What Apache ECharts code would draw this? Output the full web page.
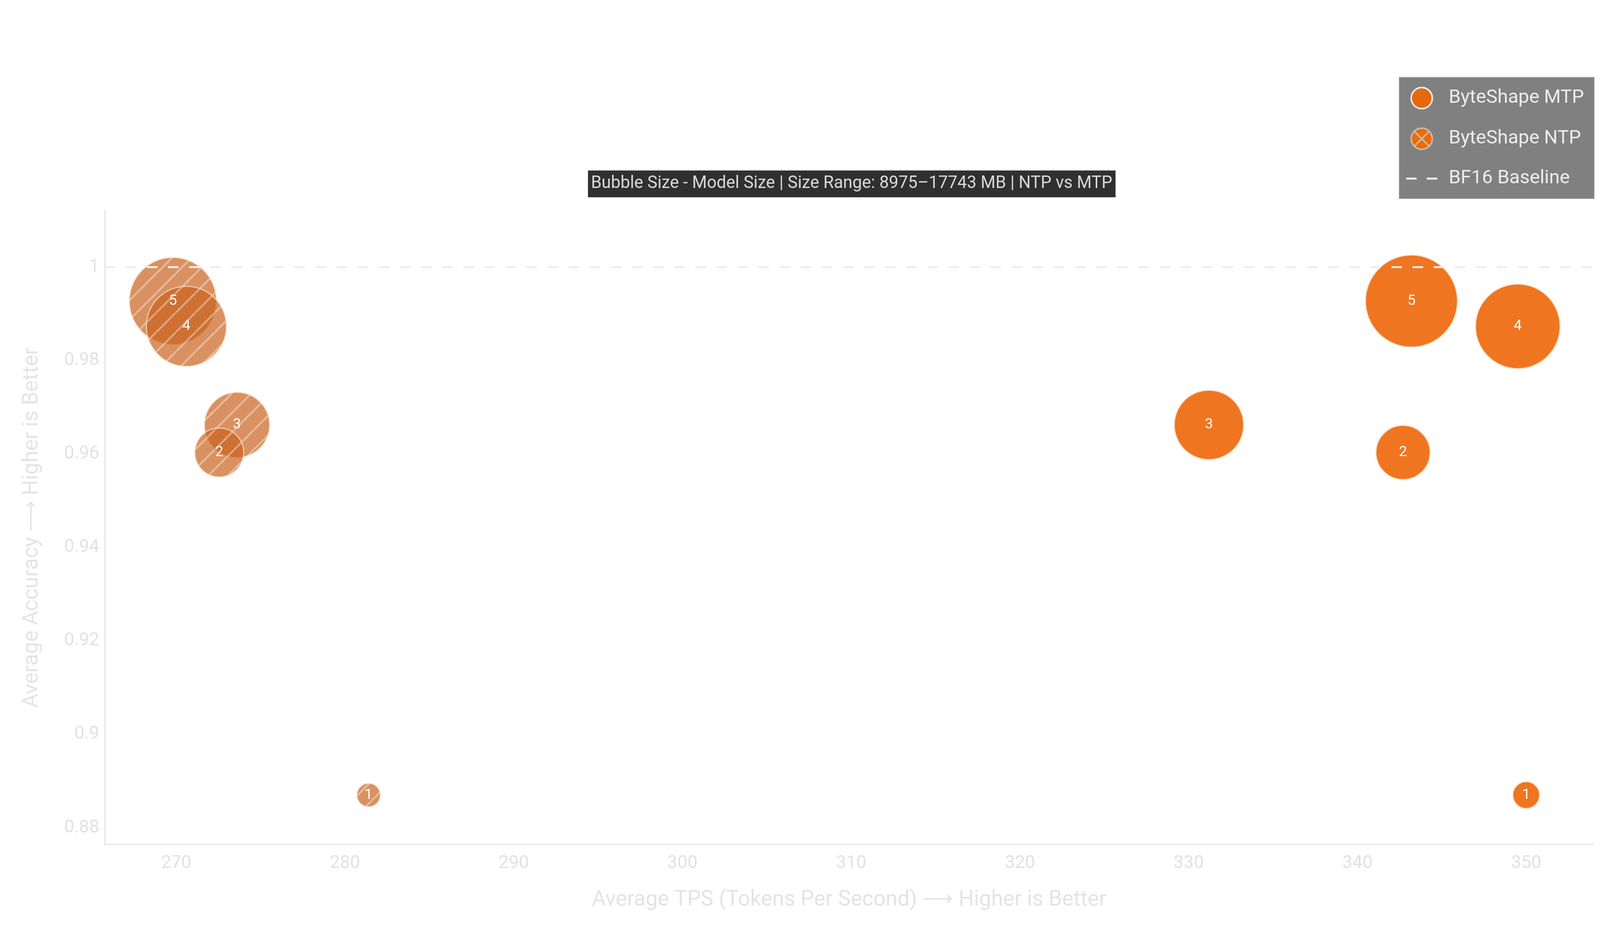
<!DOCTYPE html>
<html>
<head>
<meta charset="utf-8">
<script src="https://cdn.jsdelivr.net/npm/echarts@6/dist/echarts.min.js"></script>
<style>
html,body{margin:0;padding:0;background:#fff;}
#chart{width:4200px;height:2400px;}
</style>
</head>
<body>
<div id="chart"></div>
<script>
// ---- data (ordered by configuration id, largest first) ----
var configIds = [5, 4, 3, 2, 1];
var accuracy = [0.9927, 0.9873, 0.9662, 0.9603, 0.8870];
var mtpTps = [343.2, 349.5, 331.2, 342.7, 350.0];
var ntpTps = [269.8, 270.6, 273.6, 272.55, 281.4];
var mtpSizeMB = [17743, 16796, 14854, 12911, 9423];
var ntpSizeMB = [17095, 16199, 14305, 12213, 8975];
var baselineAccuracy = 1;
var sizeMin = 8975, sizeMax = 17743;
var xTicks = [270, 280, 290, 300, 310, 320, 330, 340, 350];
var yTicks = [0.88, 0.9, 0.92, 0.94, 0.96, 0.98, 1];

var FONT = 'Roboto, "Noto Sans", sans-serif';

function build(tps, sizes) {
  return tps.map(function (x, i) { return [x, accuracy[i], sizes[i], configIds[i]]; });
}

// diagonal stripe fill for the NTP bubbles
function makeStripePattern() {
  var c = document.createElement('canvas');
  c.width = 50; c.height = 50;
  var g = c.getContext('2d');
  g.fillStyle = '#C9631F';
  g.fillRect(0, 0, 50, 50);
  g.strokeStyle = 'rgba(255,255,255,0.36)';
  g.lineWidth = 5;
  [-50, 0, 50].forEach(function (s) {
    g.beginPath(); g.moveTo(s, 50); g.lineTo(s + 50, 0); g.stroke();
  });
  return c;
}
var stripeFill = {image: makeStripePattern(), repeat: 'repeat'};

var chart = echarts.init(document.getElementById('chart'), null, {renderer: 'canvas'});
var option = {
  animation: false,
  backgroundColor: '#ffffff',
  title: {
    text: 'Bubble Size - Model Size | Size Range: ' + sizeMin + '\u2013' + sizeMax + ' MB | NTP vs MTP',
    left: 1505,
    top: 436,
    padding: [10, 8],
    backgroundColor: '#303030',
    borderColor: '#5a5a5a',
    borderWidth: 1,
    textStyle: {color: '#d9d9d9', fontSize: 43.5, fontWeight: 'normal', fontFamily: FONT, lineHeight: 49}
  },
  legend: {
    orient: 'vertical',
    right: 119,
    top: 198,
    backgroundColor: '#808080',
    borderColor: '#9c9c9c',
    borderWidth: 2,
    borderRadius: 0,
    padding: [24, 26, 24, 15],
    itemWidth: 80,
    itemHeight: 54,
    itemGap: 46,
    textStyle: {color: '#ececec', fontSize: 49, fontFamily: FONT, lineHeight: 54, padding: [0, 0, 0, 24]},
    data: [
      {name: 'ByteShape MTP', icon: 'circle',
       itemStyle: {color: '#E5690F', borderColor: '#eeeeee', borderWidth: 4, opacity: 1}},
      {name: 'ByteShape NTP', icon: 'path://M50,5 A45,45 0 1,1 49.99,5 Z M20,20 L80,80 M80,20 L20,80',
       itemStyle: {color: '#F06A00', borderColor: '#c4bbb3', borderWidth: 4, opacity: 1}},
      {name: 'BF16 Baseline', itemStyle: {opacity: 0},
       lineStyle: {color: '#eeeeee', width: 5, type: [27, 26], opacity: 1}}
    ]
  },
  grid: {left: 268, right: 121, top: 540, bottom: 240, containLabel: false},
  xAxis: {
    type: 'value',
    min: 265.76,
    max: 353.98,
    name: 'Average TPS (Tokens Per Second) \u27F6 Higher is Better',
    nameLocation: 'middle',
    nameGap: 116,
    nameTextStyle: {color: '#e4e4e4', fontSize: 55, fontFamily: FONT},
    axisLine: {show: true, lineStyle: {color: '#e4e4e4', width: 3}},
    axisTick: {show: false},
    splitLine: {show: false},
    axisLabel: {
      color: '#e2e2e2', fontSize: 46, fontFamily: FONT, margin: 26,
      customValues: xTicks,
      formatter: function (v) { return String(Math.round(v)); }
    }
  },
  yAxis: {
    type: 'value',
    min: 0.87649,
    max: 1.01196,
    name: 'Average Accuracy \u27F6 Higher is Better',
    nameLocation: 'middle',
    nameGap: 158,
    nameTextStyle: {color: '#e4e4e4', fontSize: 55, fontFamily: FONT},
    axisLine: {show: true, lineStyle: {color: '#e4e4e4', width: 3}},
    axisTick: {show: false},
    splitLine: {show: false},
    axisLabel: {
      color: '#e2e2e2', fontSize: 46, fontFamily: FONT, margin: 14,
      customValues: yTicks,
      formatter: function (v) { return String(+v.toFixed(2)); }
    }
  },
  visualMap: {
    type: 'continuous',
    show: false,
    dimension: 2,
    seriesIndex: [0, 1],
    min: sizeMin,
    max: sizeMax,
    inRange: {symbolSize: [60, 236]},
    outOfRange: {symbolSize: [60, 236]}
  },
  series: [
    {
      name: 'ByteShape MTP',
      type: 'scatter',
      z: 3,
      symbol: 'circle',
      data: build(mtpTps, mtpSizeMB),
      itemStyle: {color: '#F07520', borderColor: '#fde5d3', borderWidth: 3, opacity: 1},
      label: {
        show: true, position: 'inside', color: '#ffffff', fontSize: 37, fontFamily: FONT,
        formatter: function (p) { return String(p.value[3]); }
      }
    },
    {
      name: 'ByteShape NTP',
      type: 'custom',
      z: 3,
      data: build(ntpTps, ntpSizeMB),
      itemStyle: {color: '#C9631F'},
      encode: {x: 0, y: 1},
      renderItem: function (params, api) {
        var pt = api.coord([api.value(0), api.value(1)]);
        var s = api.visual('symbolSize');
        var d = Array.isArray(s) ? s[0] : s;
        return {
          type: 'group',
          children: [
            {type: 'circle', z2: 1, shape: {cx: pt[0], cy: pt[1], r: d / 2},
             style: {fill: stripeFill, stroke: '#fde3d0', lineWidth: 3, opacity: 0.7}},
            {type: 'text', z2: 100,
             style: {text: String(api.value(3)), x: pt[0], y: pt[1], align: 'center', verticalAlign: 'middle',
                     fill: '#ffffff', fontSize: 37, fontFamily: FONT}}
          ]
        };
      }
    },
    {
      name: 'BF16 Baseline',
      type: 'line',
      z: 10,
      data: [],
      symbol: 'none',
      lineStyle: {color: '#eeeeee', width: 5, type: [27, 26]},
      markLine: {
        silent: true,
        symbol: 'none',
        label: {show: false},
        lineStyle: {color: '#eeeeee', width: 5, type: [27, 27], opacity: 1},
        data: [{yAxis: baselineAccuracy}]
      }
    }
  ]
};
chart.setOption(option);
</script>
</body>
</html>
